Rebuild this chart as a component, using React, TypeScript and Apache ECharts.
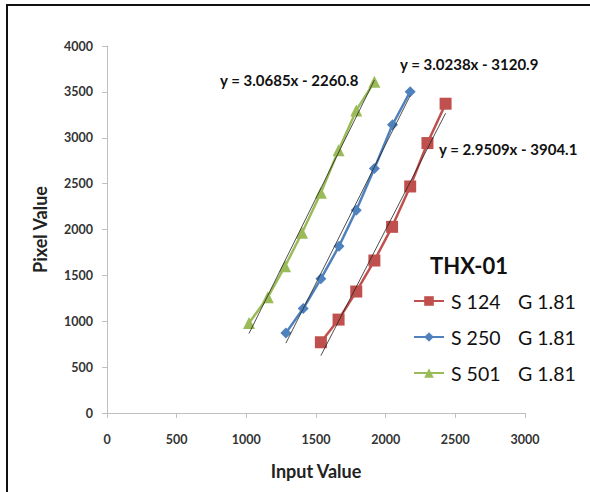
import React, { useEffect, useRef } from "react";
import * as echarts from "echarts";

const xTicks = [0, 500, 1000, 1500, 2000, 2500, 3000];
const yTicks = [0, 500, 1000, 1500, 2000, 2500, 3000, 3500, 4000];

const s124X = [1535, 1662, 1789, 1919, 2046, 2176, 2300, 2430];
const s124Y = [771, 1018, 1324, 1662, 2029, 2469, 2942, 3371];
const s250X = [1284, 1408, 1535, 1665, 1789, 1919, 2049, 2176];
const s250Y = [873, 1138, 1462, 1818, 2211, 2665, 3142, 3502];
const s501X = [1019, 1154, 1278, 1400, 1535, 1662, 1789, 1919];
const s501Y = [982, 1262, 1600, 1964, 2400, 2865, 3298, 3611];

const seriesNames = ["S 124   G 1.81", "S 250   G 1.81", "S 501   G 1.81"];
const trendSlopes = [2.9509, 3.0238, 3.0685];
const trendIntercepts = [-3904.1, -3120.9, -2260.8];
const trendLabels = ["y = 2.9509x - 3904.1", "y = 3.0238x - 3120.9", "y = 3.0685x - 2260.8"];
const legendTitle = "THX-01";
const xName = "Input Value";
const yName = "Pixel Value";

const FONT = "Lato, 'Open Sans', sans-serif";

export default function App() {
  const ref = useRef<HTMLDivElement>(null);
  useEffect(() => {
    if (!ref.current) return;
    const chart = echarts.init(ref.current, undefined, { renderer: "svg" });
    const xs = [s124X, s250X, s501X];
    const ys = [s124Y, s250Y, s501Y];
    const colors = ["#C0504D", "#4F81BD", "#9BBB59"];
    const symbols = ["rect", "diamond", "triangle"];
    const symbolSizes = [12, 11, 12];
    const dataSeries = xs.map((xa, i) => ({
      type: "line",
      name: seriesNames[i],
      data: xa.map((x, j) => [x, ys[i][j]]),
      symbol: symbols[i],
      symbolSize: symbolSizes[i],
      showAllSymbol: true,
      lineStyle: { color: colors[i], width: 2.5 },
      itemStyle: { color: colors[i] },
      z: 2,
    }));
    const trendSeries = xs.map((xa, i) => {
      const x0 = Math.min(...xa);
      const x1 = Math.max(...xa);
      return {
        type: "line",
        name: "trend" + i,
        data: [
          [x0, trendSlopes[i] * x0 + trendIntercepts[i]],
          [x1, trendSlopes[i] * x1 + trendIntercepts[i]],
        ],
        symbol: "none",
        silent: true,
        lineStyle: { color: "#222", width: 0.8 },
        z: 3,
      };
    });
    const labelPos = [
      { left: 439, top: 141 },
      { left: 400, top: 56 },
      { left: 220, top: 72 },
    ];
    chart.setOption({
      animation: false,
      backgroundColor: "#fff",
      grid: { left: 107, top: 46, right: 65, bottom: 79, containLabel: false },
      title: {
        text: legendTitle,
        left: 425,
        top: 249,
        textStyle: { fontFamily: FONT, fontSize: 22, fontWeight: "bold", color: "#111" },
      },
      legend: {
        data: seriesNames,
        orient: "vertical",
        left: 408,
        top: 286,
        itemWidth: 30,
        itemHeight: 12,
        itemGap: 16,
        selectedMode: false,
        formatter: (name: string) => {
          const parts = name.split(/\s{2,}/);
          return `{a|${parts[0]}}{b|${parts[1]}}`;
        },
        textStyle: {
          padding: [0, 0, 0, 2],
          rich: {
            a: { fontFamily: FONT, fontSize: 19.5, color: "#111", width: 67, lineHeight: 24 },
            b: { fontFamily: FONT, fontSize: 19.5, color: "#111", lineHeight: 24 },
          },
        },
      },
      xAxis: {
        type: "value",
        min: 0,
        max: 3000,
        interval: 500,
        name: xName,
        nameLocation: "middle",
        nameGap: 49,
        nameTextStyle: { fontFamily: FONT, fontSize: 18, fontWeight: "bold", color: "#222" },
        axisLine: { lineStyle: { color: "#bfbfbf", width: 1 } },
        axisTick: { show: true, length: 5, lineStyle: { color: "#bfbfbf" } },
        splitLine: { show: false },
        axisLabel: {
          margin: 20,
          fontFamily: FONT,
          fontSize: 12.5,
          fontWeight: "bold",
          color: "#333",
          formatter: (v: number) => (xTicks.includes(v) ? String(v) : ""),
        },
      },
      yAxis: {
        type: "value",
        min: 0,
        max: 4000,
        interval: 500,
        name: yName,
        nameLocation: "middle",
        nameGap: 58,
        nameTextStyle: { fontFamily: FONT, fontSize: 18, fontWeight: "bold", color: "#222" },
        axisLine: { show: true, lineStyle: { color: "#bfbfbf", width: 1 } },
        axisTick: { show: true, length: 5, lineStyle: { color: "#bfbfbf" } },
        splitLine: { show: false },
        axisLabel: {
          margin: 14,
          fontFamily: FONT,
          fontSize: 12.5,
          fontWeight: "bold",
          color: "#333",
          formatter: (v: number) => (yTicks.includes(v) ? String(v) : ""),
        },
      },
      graphic: [
        {
          type: "rect",
          shape: { x: 7, y: 5, width: 600, height: 500 },
          style: { fill: "none", stroke: "#111", lineWidth: 2 },
          silent: true,
        },
        ...trendLabels.map((t, i) => ({
          type: "text",
          left: labelPos[i].left,
          top: labelPos[i].top,
          style: { text: t, fontFamily: FONT, fontSize: 15, fontWeight: "bold", fill: "#111" },
          silent: true,
        })),
      ],
      series: [...dataSeries, ...trendSeries],
    });
    return () => chart.dispose();
  }, []);
  return (
    <div
      ref={ref}
      style={{ position: "fixed", left: 0, top: 0, width: 590, height: 492 }}
    />
  );
}
